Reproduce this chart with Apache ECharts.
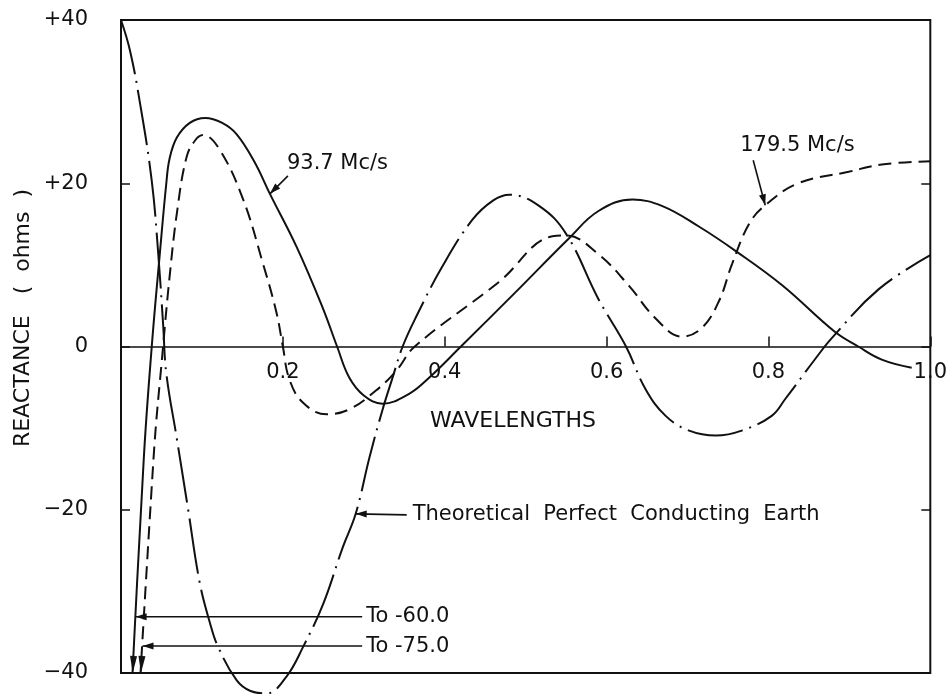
<!DOCTYPE html>
<html>
<head>
<meta charset="utf-8">
<title>Reactance vs wavelengths</title>
<script src="https://cdn.jsdelivr.net/npm/echarts@6/dist/echarts.min.js"></script>
<style>
  html, body { margin: 0; padding: 0; background: #fff; }
  #chart { width: 950px; height: 694px; }
</style>
</head>
<body>
<div id="chart"></div>
<script>
// Axis tick labels
const xTickLabels = ['', '0.2', '0.4', '0.6', '0.8', '1.0'];
const yTickLabels = ['\u221240', '\u221220', '0', '+20', '+40'];

// Measured reactance (ohms) against antenna height (wavelengths), 93.7 Mc/s
const reactance937 = [
  [0.004, -60], [0.028, -14], [0.038, 0], [0.048, 11.4], [0.056, 20], [0.060, 23],
  [0.069, 25.6], [0.085, 27.4], [0.104, 28.0], [0.125, 27.4], [0.143, 26.0],
  [0.165, 22.6], [0.184, 18.7], [0.217, 12.2], [0.249, 4.8], [0.267, 0],
  [0.282, -3.8], [0.300, -6.0], [0.323, -7.0], [0.356, -5.8], [0.381, -3.8],
  [0.420, 0], [0.487, 6.6], [0.554, 13.3], [0.590, 16.6], [0.632, 18.0],
  [0.669, 17.2], [0.714, 14.7], [0.761, 11.6], [0.817, 7.5], [0.882, 1.8],
  [0.911, 0], [0.940, -1.6], [0.977, -2.6]
];

// Measured reactance (ohms), 179.5 Mc/s
const reactance1795 = [
  [0.004, -75], [0.040, -14], [0.052, 0], [0.060, 8.5], [0.069, 16.3], [0.081, 23.2],
  [0.092, 25.3], [0.1015, 25.9], [0.122, 24.1], [0.151, 18.0], [0.175, 10.3],
  [0.192, 4.2], [0.200, 0], [0.208, -4.0], [0.225, -6.9], [0.254, -8.3],
  [0.282, -7.7], [0.315, -5.4], [0.340, -3.0], [0.363, 0], [0.467, 7.9],
  [0.533, 13.5], [0.550, 13.6], [0.590, 11.3], [0.628, 7.4], [0.660, 3.5],
  [0.693, 1.2], [0.718, 2.3], [0.739, 5.6], [0.755, 10.1], [0.776, 15.0],
  [0.796, 17.3], [0.837, 20.0], [0.899, 21.4], [0.940, 22.3], [1.000, 22.7]
];

// Theoretical reactance over a perfectly conducting earth
const reactanceTheory = [
  [0, 40], [0.011, 36.3], [0.023, 30.1], [0.038, 20.3], [0.046, 11.4], [0.052, 2.8],
  [0.056, -3.3], [0.069, -11.3], [0.083, -20.0], [0.097, -28.8], [0.110, -33.9],
  [0.120, -36.8], [0.143, -40.9], [0.160, -42.2], [0.180, -42.5], [0.204, -40.5],
  [0.225, -36.8], [0.250, -31.5], [0.274, -24.6], [0.290, -20.5], [0.307, -13.6],
  [0.323, -7.8], [0.335, -4.0], [0.348, 0], [0.365, 3.7], [0.397, 9.8],
  [0.434, 15.5], [0.460, 17.9], [0.480, 18.6], [0.517, 17.2], [0.550, 13.8],
  [0.590, 5.8], [0.624, 0], [0.648, -5.2], [0.673, -8.5], [0.702, -10.3],
  [0.735, -10.9], [0.767, -10.3], [0.804, -8.5], [0.821, -6.4], [0.858, -1.5],
  [0.878, 1.0], [0.936, 7.0], [1.000, 11.2]
];

const Y_MIN = -40, Y_MAX = 40, Y_STEP = 20;
const X_STEP = 0.2;

const FONT = "'DejaVu Sans', sans-serif";
const INK = '#111';
const FONT_SIZE = 21;

const GRID = { left: 121, right: 18, top: 20, bottom: 21 };
const CHART_H = 694;
// the wavelength axis runs along reactance = 0, so lift it from the frame bottom
const plotH = CHART_H - GRID.top - GRID.bottom;
const zeroLift = plotH * (0 - Y_MIN) / (Y_MAX - Y_MIN);

const chart = echarts.init(document.getElementById('chart'), null, { renderer: 'canvas' });

const tickStyle = { color: INK, width: 1.5 };
const labelBase = { color: INK, fontSize: FONT_SIZE, fontFamily: FONT };

function lineSeries(name, data, dash, clip) {
  return {
    name, type: 'line', data,
    showSymbol: false, symbol: 'none',
    smooth: 0.4,
    clip,
    silent: true,
    lineStyle: { color: INK, width: 2, type: dash, cap: 'butt' },
    z: 3
  };
}

chart.setOption({
  animation: false,
  backgroundColor: '#fff',
  grid: Object.assign({
    show: true, borderColor: INK, borderWidth: 2, backgroundColor: 'transparent'
  }, GRID),
  xAxis: {
    type: 'value', min: 0, max: 1, interval: X_STEP, position: 'bottom',
    offset: -zeroLift,
    axisLine: { show: true, onZero: false, lineStyle: tickStyle },
    axisTick: { show: true, inside: true, length: 10, lineStyle: tickStyle },
    axisLabel: Object.assign({}, labelBase, {
      margin: 16,
      formatter: v => xTickLabels[Math.round(v / X_STEP)]
    }),
    splitLine: { show: false }
  },
  yAxis: [
    {
      type: 'value', min: Y_MIN, max: Y_MAX, interval: Y_STEP, position: 'left',
      axisLine: { show: false },
      axisTick: { show: true, inside: true, length: 9, lineStyle: tickStyle },
      axisLabel: Object.assign({}, labelBase, {
        margin: 33,
        formatter: v => yTickLabels[Math.round((v - Y_MIN) / Y_STEP)]
      }),
      splitLine: { show: false }
    },
    {
      type: 'value', min: Y_MIN, max: Y_MAX, interval: Y_STEP, position: 'right',
      axisLine: { show: false },
      axisTick: { show: true, inside: true, length: 9, lineStyle: tickStyle },
      axisLabel: { show: false },
      splitLine: { show: false }
    }
  ],
  series: [
    lineSeries('93.7 Mc/s', reactance937, 'solid', true),
    lineSeries('179.5 Mc/s', reactance1795, [13, 7], true),
    lineSeries('Theoretical Perfect Conducting Earth', reactanceTheory, [56, 7, 2, 7], false)
  ]
});

// ---- annotations: leaders, arrowheads and captions placed from the data ----
const toPx = pt => chart.convertToPixel({ xAxisIndex: 0, yAxisIndex: 0 }, pt);

// x where a series first crosses level y (linear between samples)
function crossingX(data, y) {
  for (let i = 0; i < data.length - 1; i++) {
    const a = data[i], b = data[i + 1];
    if ((a[1] - y) * (b[1] - y) <= 0 && a[1] !== b[1]) {
      return a[0] + (b[0] - a[0]) * (y - a[1]) / (b[1] - a[1]);
    }
  }
  return data[0][0];
}
const pointAt = (data, x) => data.reduce((best, p) => Math.abs(p[0] - x) < Math.abs(best[0] - x) ? p : best);

function arrowHead(tip, from, len, half) {
  const dx = tip[0] - from[0], dy = tip[1] - from[1];
  const d = Math.hypot(dx, dy) || 1;
  const ux = dx / d, uy = dy / d;
  const bx = tip[0] - ux * len, by = tip[1] - uy * len;
  return {
    type: 'polygon', silent: true, z: 20,
    shape: { points: [tip, [bx - uy * half, by + ux * half], [bx + uy * half, by - ux * half]] },
    style: { fill: INK }
  };
}
function leader(from, tip) {
  return [
    { type: 'line', silent: true, z: 20,
      shape: { x1: from[0], y1: from[1], x2: tip[0], y2: tip[1] },
      style: { stroke: INK, lineWidth: 1.6 } },
    arrowHead(tip, from, 11, 3.5)
  ];
}
function caption(str, x, y, align, size) {
  return {
    type: 'text', x, y, silent: true, z: 20,
    style: {
      text: str, fill: INK, font: (size || FONT_SIZE) + 'px ' + FONT,
      textAlign: align || 'left', align: align || 'left',
      textVerticalAlign: 'middle', verticalAlign: 'middle'
    }
  };
}

const els = [];

// axis titles
els.push(Object.assign(caption('REACTANCE   (  ohms  )', 23, 318, 'center', 22), { rotation: Math.PI / 2 }));
els.push(caption('WAVELENGTHS', 513, 421, 'center', 22));

// series captions with arrows onto the curves
const a937 = toPx(pointAt(reactance937, 0.184));
els.push(...leader([a937[0] + 18, a937[1] - 18], a937));
els.push(caption('93.7 Mc/s', a937[0] + 17, a937[1] - 30));

const a1795 = toPx(pointAt(reactance1795, 0.796));
els.push(...leader([a1795[0] - 12, a1795[1] - 45], a1795));
els.push(caption('179.5 Mc/s', a1795[0] - 25, a1795[1] - 60));

const aTh = toPx(pointAt(reactanceTheory, 0.290));
els.push(...leader([aTh[0] + 51, aTh[1] + 1], aTh));
els.push(caption('Theoretical  Perfect  Conducting  Earth', aTh[0] + 57, aTh[1] + 1));

// off-scale minima: down-arrows where the curves leave the frame, plus "To ..." notes
const LEADER_END_X = 0.298;
[[reactance937, -33.1], [reactance1795, -36.7]].forEach(([data, levelY]) => {
  const exitX = crossingX(data, Y_MIN);
  const tip = toPx([exitX, Y_MIN]);
  const back = toPx([crossingX(data, Y_MIN + 3), Y_MIN + 3]);
  els.push(arrowHead(tip, back, 17, 3.5));

  const onCurve = toPx([crossingX(data, levelY), levelY]);
  const end = toPx([LEADER_END_X, levelY]);
  els.push(...leader(end, onCurve));
  els.push(caption('To ' + data[0][1].toFixed(1), end[0] + 4, end[1]));
});

chart.setOption({ graphic: { elements: els } });
</script>
</body>
</html>
